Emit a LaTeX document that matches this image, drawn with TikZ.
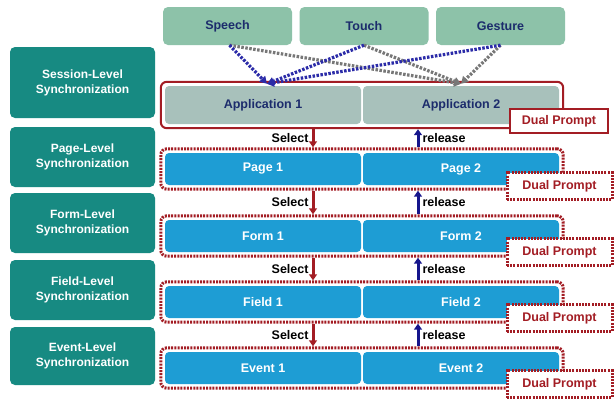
\documentclass[tikz,border=0pt]{standalone}
\usepackage{fontspec}
\setmainfont{Liberation Sans}
\usepackage{xcolor}
\usetikzlibrary{positioning, arrows.meta, fit}
\definecolor{modegreen}{HTML}{8DC2A9}
\definecolor{levelteal}{HTML}{178A82}
\definecolor{appgrey}{HTML}{A8C1BB}
\definecolor{rowblue}{HTML}{1E9DD4}
\definecolor{navytext}{HTML}{1C2C6C}
\definecolor{promptred}{HTML}{A31D24}
\definecolor{relblue}{HTML}{16168C}
\definecolor{linkgrey}{HTML}{777777}
\definecolor{linkblue}{HTML}{2B2BA8}
\tikzset{
    sync/.style={
        x=1pt, y=-1pt,
        font=\fontsize{12.5}{14}\selectfont\bfseries,
        modality/.style={rectangle, rounded corners=5pt, fill=modegreen, text=navytext, minimum width=129pt, minimum height=38pt, inner sep=0pt},
        level/.style={rectangle, rounded corners=5pt, fill=levelteal, text=white, minimum width=145pt, align=center, inner sep=0pt, font=\fontsize{12}{15}\selectfont\bfseries},
        appbox/.style={rectangle, rounded corners=4pt, fill=appgrey, text=navytext, minimum width=196pt, minimum height=38pt, inner sep=0pt},
        rowbox/.style={rectangle, rounded corners=4pt, fill=rowblue, text=white, minimum width=196pt, minimum height=32pt, inner sep=0pt},
        session_frame/.style={draw=promptred, line width=2pt, rounded corners=6pt, inner sep=4pt},
        row_frame/.style={draw=promptred, line width=3pt, dash pattern=on 2pt off 1.2pt, rounded corners=6pt, inner sep=4pt},
        prompt/.style={rectangle, fill=white, draw=promptred, text=promptred, minimum width=105pt, minimum height=27pt, inner sep=0pt},
        link_blue/.style={linkblue, line width=3.2pt, dash pattern=on 2.5pt off 1.5pt, -{Triangle[length=7pt, width=8pt]}},
        link_grey/.style={linkgrey, line width=3.2pt, dash pattern=on 2.5pt off 1.5pt, -{Triangle[length=7pt, width=8pt]}},
        select/.style={promptred, line width=3pt, -{Triangle[length=6pt, width=8pt]}},
        release/.style={relblue, line width=3pt, -{Triangle[length=6pt, width=8pt]}},
        steplabel/.style={text=black, font=\fontsize{12.5}{14}\selectfont\bfseries, inner sep=3pt}
    }
}

\begin{document}
\begin{tikzpicture}[sync]
        \useasboundingbox[fill=white] (0,0) rectangle (616,399);

        % Modalities
        \node[modality] (speech) at (227.5, 26) {Speech};
        \node[modality] (touch) at (364, 26) {Touch};
        \node[modality] (gesture) at (500.5, 26) {Gesture};

        % Synchronization levels
        \node[level, minimum height=71pt] (session) at (82.5, 82.5) {Session-Level\\Synchronization};
        \node[level, minimum height=60pt] (pagelevel) at (82.5, 157) {Page-Level\\Synchronization};
        \node[level, minimum height=60pt] (formlevel) at (82.5, 223) {Form-Level\\Synchronization};
        \node[level, minimum height=60pt] (fieldlevel) at (82.5, 290) {Field-Level\\Synchronization};
        \node[level, minimum height=58pt] (eventlevel) at (82.5, 356) {Event-Level\\Synchronization};

        % Applications
        \node[appbox] (app1) at (263, 105) {Application 1};
        \node[appbox] (app2) at (461, 105) {Application 2};
        \node[session_frame, fit=(app1)(app2)] (approw) {};
        \node[prompt, minimum width=98pt, minimum height=24pt, line width=1.5pt] (prompt0) at (559, 121) {Dual Prompt};

        % Pages
        \node[rowbox] (page1) at (263, 169) {Page 1};
        \node[rowbox] (page2) at (461, 169) {Page 2};
        \node[row_frame, fit=(page1)(page2)] (pagerow) {};
        \node[prompt, line width=3pt, dash pattern=on 2pt off 1.2pt] (prompt1) at (559.5, 186) {Dual Prompt};

        % Forms
        \node[rowbox] (form1) at (263, 236) {Form 1};
        \node[rowbox] (form2) at (461, 236) {Form 2};
        \node[row_frame, fit=(form1)(form2)] (formrow) {};
        \node[prompt, line width=3pt, dash pattern=on 2pt off 1.2pt] (prompt2) at (559.5, 252) {Dual Prompt};

        % Fields
        \node[rowbox] (field1) at (263, 302) {Field 1};
        \node[rowbox] (field2) at (461, 302) {Field 2};
        \node[row_frame, fit=(field1)(field2)] (fieldrow) {};
        \node[prompt, line width=3pt, dash pattern=on 2pt off 1.2pt] (prompt3) at (559.5, 318) {Dual Prompt};

        % Events
        \node[rowbox] (event1) at (263, 368) {Event 1};
        \node[rowbox] (event2) at (461, 368) {Event 2};
        \node[row_frame, fit=(event1)(event2)] (eventrow) {};
        \node[prompt, line width=3pt, dash pattern=on 2pt off 1.2pt] (prompt4) at (559.5, 384) {Dual Prompt};

        % Modality links
        \draw[link_grey] ([xshift=2pt]speech.south) -- ([yshift=2pt]app2.north);
        \draw[link_grey] (touch.south) -- ([yshift=2pt]app2.north);
        \draw[link_grey] (gesture.south) -- ([yshift=2pt]app2.north);
        \draw[link_blue] ([xshift=2pt]speech.south) -- ([xshift=4pt, yshift=2pt]app1.north);
        \draw[link_blue] (touch.south) -- ([xshift=4pt, yshift=2pt]app1.north);
        \draw[link_blue] (gesture.south) -- ([xshift=4pt, yshift=2pt]app1.north);

        % Select / release
        \draw[select] ([xshift=50pt]approw.south -| app1.center) -- ([xshift=50pt]pagerow.north -| app1.center) node[midway, left, steplabel] {Select};
        \draw[release] ([xshift=-43pt]pagerow.north -| app2.center) -- ([xshift=-43pt]approw.south -| app2.center) node[midway, right, steplabel] {release};
        \draw[select] ([xshift=50pt]pagerow.south -| app1.center) -- ([xshift=50pt]formrow.north -| app1.center) node[midway, left, steplabel] {Select};
        \draw[release] ([xshift=-43pt]formrow.north -| app2.center) -- ([xshift=-43pt]pagerow.south -| app2.center) node[midway, right, steplabel] {release};
        \draw[select] ([xshift=50pt]formrow.south -| app1.center) -- ([xshift=50pt]fieldrow.north -| app1.center) node[midway, left, steplabel] {Select};
        \draw[release] ([xshift=-43pt]fieldrow.north -| app2.center) -- ([xshift=-43pt]formrow.south -| app2.center) node[midway, right, steplabel] {release};
        \draw[select] ([xshift=50pt]fieldrow.south -| app1.center) -- ([xshift=50pt]eventrow.north -| app1.center) node[midway, left, steplabel] {Select};
        \draw[release] ([xshift=-43pt]eventrow.north -| app2.center) -- ([xshift=-43pt]fieldrow.south -| app2.center) node[midway, right, steplabel] {release};

    \end{tikzpicture}
\end{document}
